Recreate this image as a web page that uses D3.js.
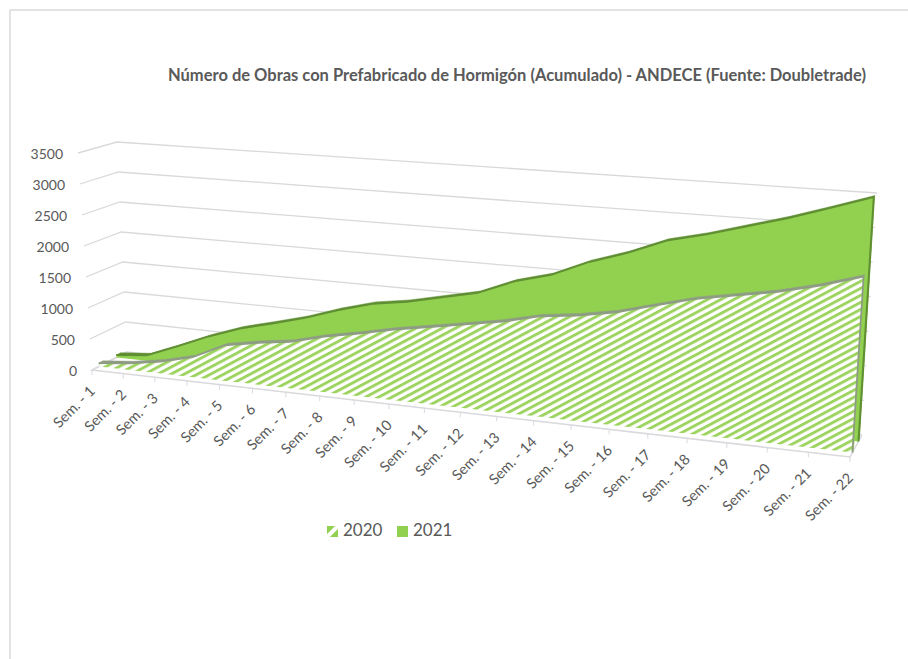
<!DOCTYPE html>
<html>
<head>
<meta charset="utf-8">
<script src="https://cdn.jsdelivr.net/npm/d3@7"></script>
<style>
body { margin: 0; background: #fff; }
text { font-family: Lato, sans-serif; fill: #595959; }
</style>
</head>
<body>
<script>
var semanas = ["Sem. - 1","Sem. - 2","Sem. - 3","Sem. - 4","Sem. - 5","Sem. - 6","Sem. - 7","Sem. - 8","Sem. - 9","Sem. - 10","Sem. - 11",
	"Sem. - 12","Sem. - 13","Sem. - 14","Sem. - 15","Sem. - 16","Sem. - 17","Sem. - 18","Sem. - 19","Sem. - 20","Sem. - 21","Sem. - 22"];
var obras2020 = [55,105,192,318,562,656,728,863,964,1081,1172,1267,1364,1494,1560,1661,1813,1960,2061,2164,2303,2480];
var obras2021 = [40,89,292,509,692,827,969,1147,1295,1378,1499,1619,1845,1993,2237,2420,2650,2786,2951,3115,3304,3500];
var yTicks = [0,500,1000,1500,2000,2500,3000,3500];
var titulo = "Número de Obras con Prefabricado de Hormigón (Acumulado) - ANDECE (Fuente: Doubletrade)";

const WIDTH = 908;
const HEIGHT = 659;

// corners of the 3D box as it lands on screen: front plane and back wall
var front = { bl: [92,370], br: [850,457], tl: [78,153], tr: [866,207] };
var back = { bl: [127,352], br: [862,435], tl: [117,142], tr: [877,193] };

// depth of each series inside the box (0 front, 1 back wall)
const Z_2020 = 0.2, Z_2021 = 0.7, DEPTH = 0.12;
const PERSPECTIVE = 1.164;

var xScale = d3.scalePoint().domain(semanas).range([0, 1]);
var yScale = d3.scaleLinear().domain([0, 3500]).range([0, 1]);

var mix = function (a, b, t) {
	return [a[0] + (b[0] - a[0]) * t, a[1] + (b[1] - a[1]) * t];
};

// category + value + depth -> screen point
var project = function (sem, value, z) {
	var t = xScale(sem);
	var s = t / (t + PERSPECTIVE * (1 - t));
	var bottom = mix(mix(front.bl, back.bl, z), mix(front.br, back.br, z), s);
	var top = mix(mix(front.tl, back.tl, z), mix(front.tr, back.tr, z), s);
	return mix(bottom, top, yScale(value));
};

var svg = d3.select("body").append("svg")
	.attr("width", WIDTH)
	.attr("height", HEIGHT)
	.style("display", "block");

var defs = svg.append("defs");
var hatch = defs.append("pattern")
	.attr("id", "hatch")
	.attr("patternUnits", "userSpaceOnUse")
	.attr("width", 6.2)
	.attr("height", 6.2)
	.attr("patternTransform", "rotate(-28)");
hatch.append("rect").attr("width", 6.2).attr("height", 6.2).attr("fill", "#fff");
hatch.append("rect").attr("width", 6.2).attr("height", 2.9).attr("fill", "#9dd35f");

// legend swatch: white band across the middle, green corners
var hatchSwatch = defs.append("pattern")
	.attr("id", "hatchSwatch")
	.attr("patternUnits", "userSpaceOnUse")
	.attr("width", 12)
	.attr("height", 12)
	.attr("patternTransform", "translate(332.5,531.5) rotate(-45) translate(0,-6)");
hatchSwatch.append("rect").attr("width", 12).attr("height", 12).attr("fill", "#92d050");
hatchSwatch.append("rect").attr("y", 4).attr("width", 12).attr("height", 4).attr("fill", "#fff");

// chart border
svg.append("rect")
	.attr("x", 10).attr("y", 10)
	.attr("width", WIDTH).attr("height", HEIGHT)
	.attr("fill", "none").attr("stroke", "#e0e0e0").attr("stroke-width", 1.8);

svg.append("text")
	.attr("x", 168).attr("y", 81)
	.attr("font-size", 16.5).attr("font-weight", 700)
	.text(titulo);

var pathLine = d3.line();
var first = semanas[0], last = semanas[semanas.length - 1];

// gridlines on the left wall and back wall
var grid = svg.append("g");
grid.selectAll("path").data(yTicks).enter().append("path")
	.attr("fill", "none").attr("stroke", "#d9d9d9").attr("stroke-width", 1.3)
	.attr("d", function (d) {
		return pathLine([project(first, d, 0), project(first, d, 1), project(last, d, 1)]);
	});

// floor edges and ticks
svg.append("path")
	.attr("fill", "none").attr("stroke", "#d9d9de").attr("stroke-width", 1.5)
	.attr("d", pathLine([project(first, 0, 1), project(first, 0, 0), project(last, 0, 0), project(last, 0, 1)]));

svg.append("g").selectAll("line").data(semanas).enter().append("line")
	.attr("stroke", "#d9d9de")
	.attr("x1", function (d) { return project(d, 0, 0)[0]; })
	.attr("y1", function (d) { return project(d, 0, 0)[1]; })
	.attr("x2", function (d) { return project(d, 0, 0)[0]; })
	.attr("y2", function (d) { return project(d, 0, 0)[1] + 5; });

// y labels
svg.append("g").selectAll("text").data(yTicks).enter().append("text")
	.attr("font-size", 14)
	.attr("text-anchor", "end")
	.attr("x", function (d) { return project(first, d, 0)[0] - 15; })
	.attr("y", function (d) { return project(first, d, 0)[1] + 6; })
	.text(function (d) { return d; });

// x labels
svg.append("g").selectAll("text").data(semanas).enter().append("text")
	.attr("font-size", 14.5)
	.attr("text-anchor", "end")
	.attr("transform", function (d) {
		var p = project(d, 0, 0);
		return "translate(" + (p[0] + 4) + "," + (p[1] + 22) + ") rotate(-45)";
	})
	.text(function (d) { return d; });

// one series: top strip, right side and front face
var drawSeries = function (values, z, fill, topFill, stroke, sideFill) {
	var g = svg.append("g");
	var upper = semanas.map(function (d, i) { return project(d, values[i], z); });
	var upperBack = semanas.map(function (d, i) { return project(d, values[i], z + DEPTH); });
	var base = semanas.map(function (d) { return project(d, 0, z); });

	g.append("path")
		.attr("fill", topFill)
		.attr("stroke", topFill)
		.attr("stroke-width", 0.5)
		.attr("d", pathLine(upper.concat(upperBack.slice().reverse())) + "Z");

	g.append("path")
		.attr("fill", sideFill)
		.attr("d", pathLine([project(last, values[21], z), project(last, values[21], z + DEPTH),
			project(last, 0, z + DEPTH), project(last, 0, z)]) + "Z");

	g.append("path")
		.attr("fill", fill)
		.attr("d", pathLine(upper.concat(base.slice().reverse())) + "Z");

	g.append("path")
		.attr("fill", "none")
		.attr("stroke", stroke)
		.attr("stroke-width", 1.8)
		.attr("d", pathLine(upper.concat([project(last, 0, z)])));
};

drawSeries(obras2021, Z_2021, "#92d050", "#5f8f32", "#5f8f32", "#6d9f38");
drawSeries(obras2020, Z_2020, "url(#hatch)", "#8e9c84", "#8e9c84", "#92d050");

// legend
var legend = svg.append("g");
legend.append("rect").attr("x", 327).attr("y", 526).attr("width", 11).attr("height", 11).attr("fill", "url(#hatchSwatch)");
legend.append("text").attr("x", 343).attr("y", 536).attr("font-size", 17).text("2020");
legend.append("rect").attr("x", 397).attr("y", 526).attr("width", 11).attr("height", 11).attr("fill", "#92d050");
legend.append("text").attr("x", 413).attr("y", 536).attr("font-size", 17).text("2021");
</script>
</body>
</html>
